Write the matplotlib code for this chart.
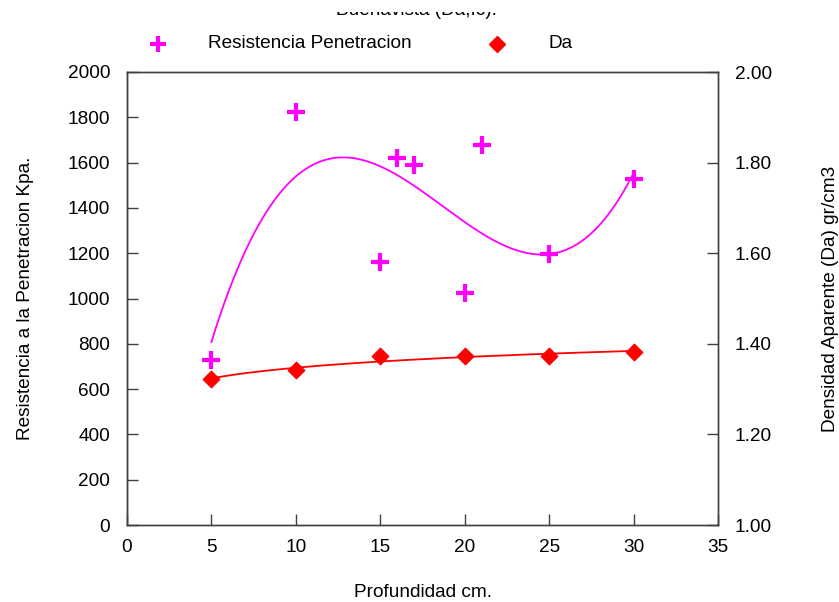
import numpy as np
import matplotlib
matplotlib.use("Agg")
import matplotlib.pyplot as plt
from matplotlib.lines import Line2D
from matplotlib.patches import Rectangle

plt.rcParams['font.family'] = ['Liberation Sans', 'DejaVu Sans']

# Data
rp_depth = [5, 10, 15, 16, 17, 20, 21, 25, 30]
rp_values = [730, 1823, 1161, 1620, 1589, 1024, 1678, 1196, 1528]
da_depth = [5, 10, 15, 20, 25, 30]
da_values = [1.322, 1.343, 1.372, 1.373, 1.373, 1.382]

title = "Buenavista (Da,Ic)."
xlabel = "Profundidad cm."
ylabel_left = "Resistencia a la Penetracion Kpa."
ylabel_right = "Densidad Aparente (Da) gr/cm3"
legend_labels = ["Resistencia Penetracion", "Da"]

magenta = '#FF00FF'
red = '#FF0000'
fs = 13.7

W, H = 839, 602
fig = plt.figure(figsize=(W/100, H/100), dpi=100)
ax = fig.add_axes([127/W, 1-525/H, (718-127)/W, (525-72)/H])
ax2 = ax.twinx()

# trend lines
xs = np.linspace(min(rp_depth), max(rp_depth), 300)
c3 = np.polyfit(rp_depth, rp_values, 3)
ax.plot(xs, np.polyval(c3, xs), color=magenta, lw=1.3, zorder=2)
ax.scatter(rp_depth, rp_values, marker='+', s=150, linewidths=3, color=magenta, zorder=3)

xd = np.linspace(min(da_depth), max(da_depth), 300)
cl = np.polyfit(np.log(da_depth), da_values, 1)
ax2.plot(xd, np.polyval(cl, np.log(xd)), color=red, lw=1.3, zorder=2)
ax2.scatter(da_depth, da_values, marker='D', s=70, color=red, zorder=3)

ax.set_xlim(0, 35)
ax.set_ylim(0, 2000)
ax2.set_ylim(1.0, 2.0)
ax.set_xticks(range(0, 36, 5))
ax.set_yticks(range(0, 2001, 200))
rt = np.arange(1.0, 2.01, 0.2)
ax2.set_yticks(rt)
ax2.set_yticklabels([f"{v:.2f}" for v in rt])

for a in (ax, ax2):
    a.tick_params(direction='in', length=8, width=1, labelsize=fs, colors='black')
    a.tick_params(color='#404040')
    for s in a.spines.values():
        s.set_color('#404040')
        s.set_linewidth(1)
ax.spines['left'].set_color('black')
ax.tick_params(axis='x', pad=10)
ax.tick_params(axis='y', pad=12)
ax2.tick_params(axis='y', pad=12)

ax.set_xlabel(xlabel, fontsize=fs, labelpad=20)
ax.set_ylabel(ylabel_left, fontsize=fs, labelpad=24)
ax2.set_ylabel(ylabel_right, fontsize=fs, labelpad=36)

# title, partly hidden at the top
fig.text(416/W, 1-15/H, title, fontsize=fs, ha='center', va='baseline', zorder=1)
fig.add_artist(Rectangle((0, 1-12/H), 1, 12/H, transform=fig.transFigure,
                         facecolor='white', edgecolor='none', zorder=5))

# legend (manual placement)
ly = 1-44/H
fig.add_artist(Line2D([158/W], [ly], linestyle='none', marker='+', markersize=12,
                      markeredgewidth=3, color=magenta, transform=fig.transFigure, zorder=6))
fig.text(208/W, ly, legend_labels[0], fontsize=fs, ha='left', va='center', zorder=6)
fig.add_artist(Line2D([497/W], [ly], linestyle='none', marker='D', markersize=8,
                      color=red, transform=fig.transFigure, zorder=6))
fig.text(548/W, ly, legend_labels[1], fontsize=fs, ha='left', va='center', zorder=6)

fig.savefig('out.png', dpi=100)
